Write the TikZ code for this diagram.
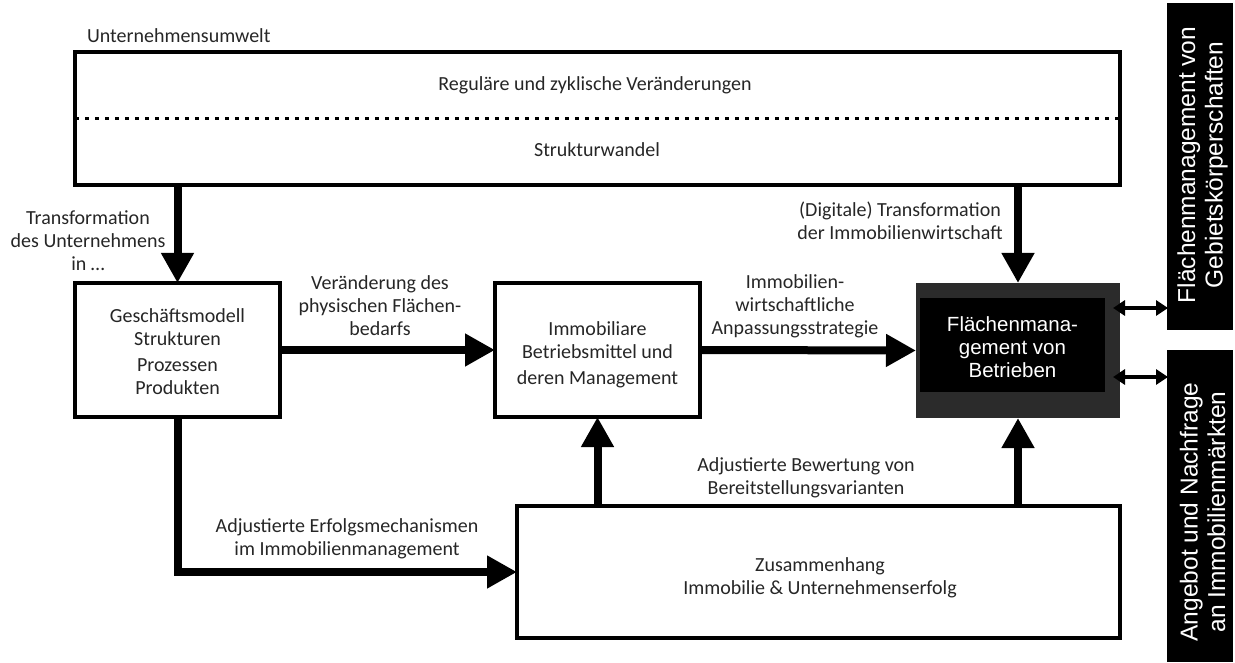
\documentclass[tikz,border=0pt]{standalone}
\usepackage{fontspec}
\setmainfont{Carlito}
\newfontfamily\arialf{Liberation Sans}
\usetikzlibrary{arrows.meta,calc}
\definecolor{darkbox}{HTML}{2B2B2B}
\begin{document}
\begin{tikzpicture}[x=1pt,y=-1pt,
  every node/.style={inner sep=0pt, outer sep=0pt},
  txt/.style={font=\fontsize{20}{23}\selectfont, align=center, text=black!85},
  box/.style={draw=black, line width=4pt, fill=white},
  arr/.style={line width=8pt, -{Triangle[length=30pt,width=31pt]}},
  darr/.style={line width=4pt, {Triangle[length=12pt,width=15pt]}-{Triangle[length=12pt,width=15pt]}},
  sidebox/.style={fill=black},
  sidetxt/.style={font=\arialf\fontsize{24.5}{27.5}\selectfont, text=white, align=center, rotate=90}
]
\useasboundingbox (0,0) rectangle (1235,663);

% boxes
\node[box, minimum width=1045pt, minimum height=133pt] (top) at (597.5,118.5) {};
\draw[line width=3.5pt, dash pattern=on 3.5pt off 6.5pt] (top.west) -- (top.east);
\node[txt] (reg) at (595,85) {Reguläre und zyklische Veränderungen};
\node[txt] (sw) at (597,150) {Strukturwandel};
\node[txt, anchor=west] (uw) at (87,36) {Unternehmensumwelt};

\node[box, minimum width=205pt, minimum height=134pt] (gm) at (177.5,350) {};
\node[txt] (gmt) at (177.5,352) {Geschäftsmodell\\Strukturen\\[3pt]Prozessen\\Produkten};

\node[box, minimum width=205pt, minimum height=134pt] (imm) at (597.5,350) {};
\node[txt] (immt) at (597.5,355) {Immobiliare\\Betriebsmittel und\\[3pt]deren Management};

\node[fill=darkbox, minimum width=204pt, minimum height=135pt] (dark) at (1018,350.5) {};
\node[fill=black, minimum width=185pt, minimum height=94pt] (inner) at (1012.5,345) {};
\node[font=\arialf\fontsize{20.5}{23}\selectfont, text=white, align=center] (fmt) at (1012.5,347) {Flächenmana-\\gement von\\Betrieben};

\node[box, minimum width=603pt, minimum height=132pt] (zus) at (818.5,572) {};
\node[txt] (zust) at (820,578) {Zusammenhang\\Immobilie \& Unternehmenserfolg};

\node[sidebox, minimum width=66pt, minimum height=327pt] (up) at (1200,166.5) {};
\node[sidetxt] (upt) at (1202.5,165) {Flächenmanagement von\\Gebietskörperschaften};
\node[sidebox, minimum width=66pt, minimum height=312pt] (lo) at (1200,506) {};
\node[sidetxt] (lot) at (1202.5,512) {Angebot und Nachfrage\\an Immobilienmärkten};

% arrows
\draw[arr] (top.south -| gm.north) -- (gm.north);
\draw[arr] (top.south -| dark.north) -- (dark.north);
\draw[arr] (gm.east) -- (imm.west);
\draw[arr] (imm.east) -- (dark.west);
\draw[arr] (gm.south) |- (zus.west);
\draw[arr] (zus.north -| imm.south) -- (imm.south);
\draw[arr] (zus.north -| dark.south) -- (dark.south);

\coordinate (dA) at ([xshift=-7pt,yshift=42.5pt]dark.east);
\coordinate (dB) at ([xshift=-7pt,yshift=-26.5pt]dark.east);
\draw[darr, shorten >=-1pt] (dA) -- (dA -| up.west);
\draw[darr, shorten >=-1pt] (dB) -- (dB -| lo.west);

% labels
\node[txt] (l1) at (88,241) {Transformation\\des Unternehmens\\in \dots};
\node[txt] (l2) at (380,306) {Veränderung des\\physischen Flächen-\\bedarfs};
\node[txt] (l3) at (795,306) {Immobilien-\\wirtschaftliche\\Anpassungsstrategie};
\node[txt] (l4) at (900,221) {(Digitale) Transformation\\der Immobilienwirtschaft};
\node[txt] (l5) at (806,478) {Adjustierte Bewertung von\\Bereitstellungsvarianten};
\node[txt] (l6) at (347,539) {Adjustierte Erfolgsmechanismen\\im Immobilienmanagement};
\end{tikzpicture}
\end{document}
